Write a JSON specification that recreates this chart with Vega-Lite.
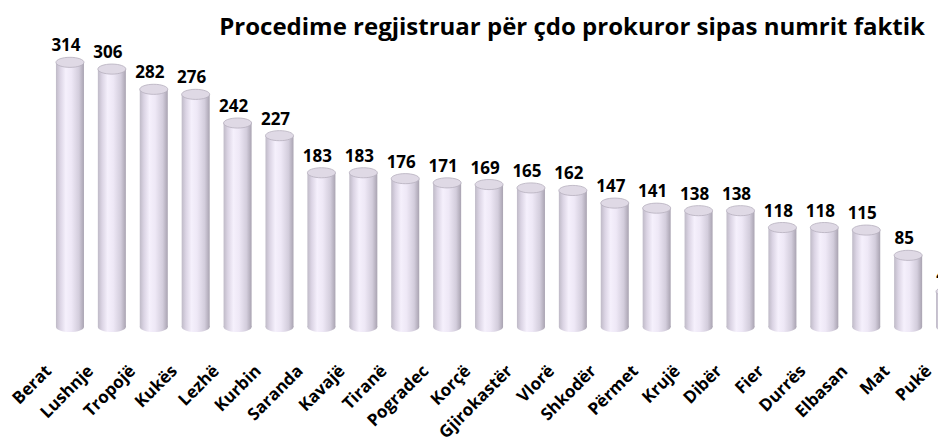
{
  "$schema": "https://vega.github.io/schema/vega-lite/v6.json",
  "autosize": {"type": "none"},
  "padding": {"left": 0, "top": 32, "right": 0, "bottom": 119},
  "width": 938,
  "height": 295,
  "background": "white",
  "config": {"view": {"stroke": null}},
  "title": {
    "text": "Procedime regjistruar për çdo prokuror sipas numrit faktik",
    "anchor": "end",
    "frame": "group",
    "font": "Open Sans",
    "fontSize": 24,
    "fontWeight": "bold",
    "color": "#000000",
    "baseline": "alphabetic",
    "offset": 0,
    "dx": -13,
    "dy": 27
  },
  "data": {
    "values": [
      {"rrethi": "Berat", "vlera": 314},
      {"rrethi": "Lushnje", "vlera": 306},
      {"rrethi": "Tropojë", "vlera": 282},
      {"rrethi": "Kukës", "vlera": 276},
      {"rrethi": "Lezhë", "vlera": 242},
      {"rrethi": "Kurbin", "vlera": 227},
      {"rrethi": "Saranda", "vlera": 183},
      {"rrethi": "Kavajë", "vlera": 183},
      {"rrethi": "Tiranë", "vlera": 176},
      {"rrethi": "Pogradec", "vlera": 171},
      {"rrethi": "Korçë", "vlera": 169},
      {"rrethi": "Gjirokastër", "vlera": 165},
      {"rrethi": "Vlorë", "vlera": 162},
      {"rrethi": "Shkodër", "vlera": 147},
      {"rrethi": "Përmet", "vlera": 141},
      {"rrethi": "Krujë", "vlera": 138},
      {"rrethi": "Dibër", "vlera": 138},
      {"rrethi": "Fier", "vlera": 118},
      {"rrethi": "Durrës", "vlera": 118},
      {"rrethi": "Elbasan", "vlera": 115},
      {"rrethi": "Mat", "vlera": 85},
      {"rrethi": "Pukë", "vlera": 42}
    ]
  },
  "encoding": {
    "x": {
      "field": "rrethi",
      "type": "nominal",
      "sort": null,
      "scale": {"range": [35, 985], "paddingInner": 0.3317, "paddingOuter": 0.5},
      "axis": {
        "title": null,
        "domain": false,
        "ticks": false,
        "tickSize": 0,
        "labelAngle": -45,
        "labelAlign": "right",
        "labelBaseline": "middle",
        "labelFont": "Open Sans",
        "labelFontSize": 17,
        "labelFontWeight": "bold",
        "labelColor": "#000000",
        "labelPadding": 41,
        "labelOffset": -21,
        "labelOverlap": false,
        "labelBound": false,
        "labelFlush": false
      }
    },
    "y": {
      "field": "vlera",
      "type": "quantitative",
      "scale": {"domain": [0, 350], "nice": false},
      "axis": null
    }
  },
  "layer": [
    {
      "mark": {
        "type": "point",
        "filled": true,
        "size": 784,
        "opacity": 1,
        "shape": "M -1 0 A 1 0.36 0 1 1 1 0 A 1 0.36 0 1 1 -1 0 Z",
        "color": {
          "gradient": "linear", "x1": 0, "x2": 1, "y1": 0, "y2": 0,
          "stops": [
            {"offset": 0, "color": "#bfbac7"},
            {"offset": 0.15, "color": "#dbd4e4"},
            {"offset": 0.35, "color": "#f5f0fc"},
            {"offset": 0.55, "color": "#eee8f6"},
            {"offset": 0.82, "color": "#d3cddc"},
            {"offset": 1, "color": "#a9a3b1"}
          ]
        }
      },
      "encoding": {"y": {"datum": 0}}
    },
    {
      "mark": {
        "type": "bar",
        "color": {
          "gradient": "linear", "x1": 0, "x2": 1, "y1": 0, "y2": 0,
          "stops": [
            {"offset": 0, "color": "#bfbac7"},
            {"offset": 0.15, "color": "#dbd4e4"},
            {"offset": 0.35, "color": "#f5f0fc"},
            {"offset": 0.55, "color": "#eee8f6"},
            {"offset": 0.82, "color": "#d3cddc"},
            {"offset": 1, "color": "#a9a3b1"}
          ]
        }
      }
    },
    {
      "mark": {
        "type": "point",
        "filled": true,
        "size": 784,
        "opacity": 1,
        "shape": "M -1 0 A 1 0.36 0 1 1 1 0 A 1 0.36 0 1 1 -1 0 Z",
        "color": "#dfd9e5",
        "stroke": "#b6b0be",
        "strokeWidth": 0.8
      }
    },
    {
      "mark": {
        "type": "text",
        "font": "Open Sans",
        "fontSize": 17,
        "fontWeight": "bold",
        "color": "#000000",
        "baseline": "alphabetic",
        "dy": -11,
        "dx": -4
      },
      "encoding": {"text": {"field": "vlera", "type": "quantitative"}}
    }
  ]
}
